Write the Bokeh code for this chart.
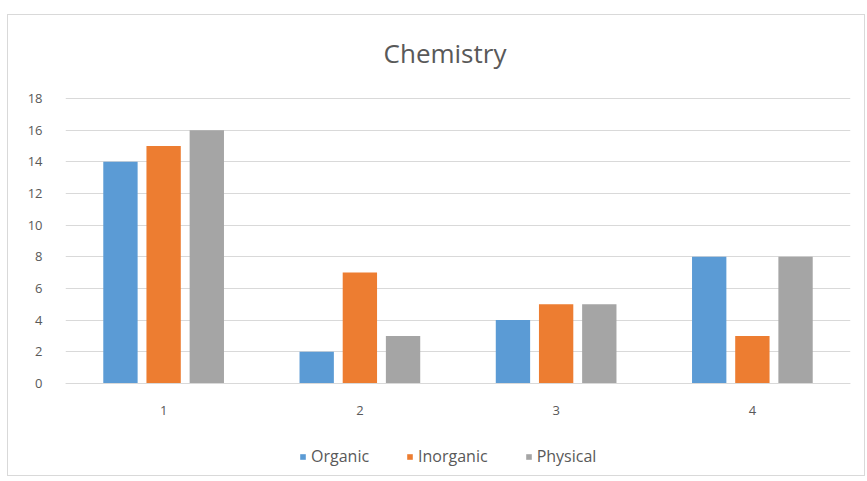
from bokeh.plotting import figure
from bokeh.models import ColumnDataSource, FactorRange, Legend, LegendItem, Label, Range1d, FixedTicker
from bokeh.transform import dodge
from bokeh.embed import file_html
from bokeh.resources import INLINE

title_text = "Chemistry"
categories = ["1", "2", "3", "4"]
organic = [14, 2, 4, 8]
inorganic = [15, 7, 5, 3]
physical = [16, 3, 5, 8]
series_names = ["Organic", "Inorganic", "Physical"]
colors = ["#5b9bd5", "#ed7d31", "#a5a5a5"]
y_ticks = [0, 2, 4, 6, 8, 10, 12, 14, 16, 18]

src = ColumnDataSource(dict(cat=categories, Organic=organic, Inorganic=inorganic, Physical=physical))

# frame spans the whole inner figure height; axis range padded so 0..18 sits where the reference has it
p = figure(x_range=FactorRange(*categories), y_range=Range1d(-5.94, 23.24),
           width=858, height=462, output_backend="svg", toolbar_location=None,
           min_border_left=57, min_border_right=16, min_border_top=0, min_border_bottom=0)
p.margin = (14, 0, 0, 7)
p.styles = {"border": "1px solid #d9d9d9"}

offsets = [-0.22, 0.0, 0.22]
renderers = []
for name, col, off in zip(series_names, colors, offsets):
    r = p.vbar(x=dodge("cat", off, range=p.x_range), top=name, width=0.175, source=src,
               fill_color=col, line_color=None)
    renderers.append(r)

p.add_layout(Label(x=2.0, y=20.9, text=title_text, text_align="center", text_baseline="middle",
                   x_offset=-13, text_font="Open Sans", text_font_size="26px", text_color="#595959"))

p.outline_line_color = None
p.background_fill_color = "white"
p.border_fill_color = "white"

p.xgrid.grid_line_color = None
p.ygrid.grid_line_color = "#d9d9d9"
p.ygrid.grid_line_width = 1

p.yaxis.ticker = FixedTicker(ticks=y_ticks)
p.yaxis.axis_line_color = None
p.yaxis.major_tick_line_color = None
p.yaxis.minor_tick_line_color = None
p.yaxis.major_label_standoff = 17
p.yaxis.major_label_text_font = "Open Sans"
p.yaxis.major_label_text_font_size = "13px"
p.yaxis.major_label_text_color = "#595959"

p.xaxis.fixed_location = 0
p.xaxis.axis_line_color = "#d9d9d9"
p.xaxis.major_tick_line_color = None
p.xaxis.minor_tick_line_color = None
p.xaxis.major_label_standoff = 17
p.xaxis.major_label_text_font = "Open Sans"
p.xaxis.major_label_text_font_size = "13px"
p.xaxis.major_label_text_color = "#595959"

legend = Legend(items=[LegendItem(label=n, renderers=[r]) for n, r in zip(series_names, renderers)],
                orientation="horizontal", location=(234, 10),
                glyph_width=7, glyph_height=7, label_text_font="Open Sans",
                label_text_font_size="16px", label_text_color="#595959",
                spacing=37, label_standoff=5, border_line_color=None, background_fill_alpha=0,
                padding=0, margin=0)
p.add_layout(legend, "center")

open("out.html", "w").write(file_html(p, INLINE))
